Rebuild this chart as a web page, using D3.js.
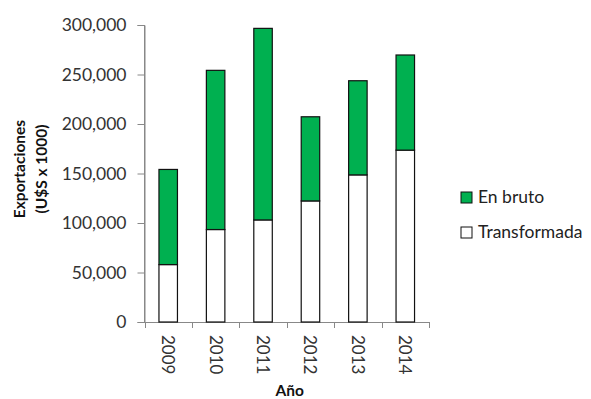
<!DOCTYPE html>
<html>
<head>
<meta charset="utf-8">
<script src="https://cdn.jsdelivr.net/npm/d3@7"></script>
<style>
  body { margin: 0; background: #fff; }
  svg { display: block; font-family: Lato, "Open Sans", sans-serif; }
</style>
</head>
<body>
<div id="chart"></div>
<script>
// data
const years = ["2009", "2010", "2011", "2012", "2013", "2014"];
const transformada = [58000, 93400, 103100, 122300, 148600, 173600];
const enBruto = [96100, 160800, 193500, 85000, 95100, 96100];
const yTicks = [0, 50000, 100000, 150000, 200000, 250000, 300000];
const seriesNames = ["En bruto", "Transformada"];
const seriesColors = ["#00b050", "#ffffff"];

const width = 591, height = 399;
const margin = { top: 25, right: 162, bottom: 77, left: 144.5 };

const svg = d3.select("#chart").append("svg")
  .attr("width", width)
  .attr("height", height);

const x = d3.scaleBand()
  .domain(years)
  .range([margin.left, width - margin.right])
  .paddingInner(0.61)
  .paddingOuter(0.305);

const y = d3.scaleLinear()
  .domain([0, 300000])
  .range([height - margin.bottom, margin.top]);

// stacked rows
const rows = years.map((d, i) => ({ year: d, Transformada: transformada[i], "En bruto": enBruto[i] }));
const stack = d3.stack().keys(["Transformada", "En bruto"]);
const layers = stack(rows);

const fmt = d3.format(",");

// y axis
const yAxis = svg.append("g")
  .attr("transform", `translate(${margin.left},0)`)
  .call(d3.axisLeft(y).tickValues(yTicks).tickFormat(fmt).tickSize(7).tickPadding(11));
yAxis.select(".domain").attr("stroke", "#888");
yAxis.selectAll(".tick line").attr("stroke", "#888");
yAxis.selectAll(".tick text")
  .attr("font-size", 17.5)
  .attr("fill", "#333")
  .style("font-family", "Lato, sans-serif");

// x axis (ticks on band edges)
const xBase = y(0);
const xg = svg.append("g");
xg.append("line")
  .attr("x1", margin.left).attr("x2", width - margin.right)
  .attr("y1", xBase + 0.5).attr("y2", xBase + 0.5)
  .attr("stroke", "#888");
const step = x.step();
d3.range(years.length + 1).forEach(i => {
  const xx = Math.round(margin.left + i * step) + 0.5;
  xg.append("line")
    .attr("x1", xx).attr("x2", xx)
    .attr("y1", xBase).attr("y2", xBase + 6)
    .attr("stroke", "#888");
});

// bars
const colorByKey = { "Transformada": "#ffffff", "En bruto": "#00b050" };
svg.append("g").selectAll("g")
  .data(layers)
  .join("g")
  .attr("fill", d => colorByKey[d.key])
  .selectAll("rect")
  .data(d => d)
  .join("rect")
  .attr("x", d => x(d.data.year))
  .attr("y", d => y(d[1]))
  .attr("width", x.bandwidth())
  .attr("height", d => y(d[0]) - y(d[1]))
  .attr("stroke", "#111")
  .attr("stroke-width", 1.2);

// redraw y axis domain on top
svg.append("line")
  .attr("x1", margin.left).attr("x2", margin.left)
  .attr("y1", margin.top).attr("y2", xBase)
  .attr("stroke", "#888");

// x labels (rotated)
svg.append("g").selectAll("text")
  .data(years)
  .join("text")
  .attr("transform", d => `translate(${x(d) + x.bandwidth() / 2 - 6},${xBase + 13}) rotate(90)`)
  .attr("font-size", 17)
  .attr("fill", "#333")
  .text(d => d);

// axis titles
svg.append("text")
  .attr("x", (margin.left + width - margin.right) / 2 + 3)
  .attr("y", 396)
  .attr("text-anchor", "middle")
  .attr("font-size", 15.5)
  .attr("font-weight", "bold")
  .attr("fill", "#111")
  .text("Año");

const yt = svg.append("text")
  .attr("transform", `translate(25,169) rotate(-90)`)
  .attr("text-anchor", "middle")
  .attr("font-size", 15.5)
  .attr("font-weight", "bold")
  .attr("fill", "#111");
yt.append("tspan").attr("x", 0).attr("dy", 0).text("Exportaciones");
yt.append("tspan").attr("x", 0).attr("dy", 22).text("(U$S x 1000)");

// legend
const legend = svg.append("g").selectAll("g")
  .data(seriesNames)
  .join("g")
  .attr("transform", (d, i) => `translate(461,${192 + i * 35})`);
legend.append("rect")
  .attr("width", 11).attr("height", 11)
  .attr("fill", (d, i) => seriesColors[i])
  .attr("stroke", "#111");
legend.append("text")
  .attr("x", 17).attr("y", 11)
  .attr("font-size", 17.5)
  .attr("fill", "#222")
  .text(d => d);
</script>
</body>
</html>
